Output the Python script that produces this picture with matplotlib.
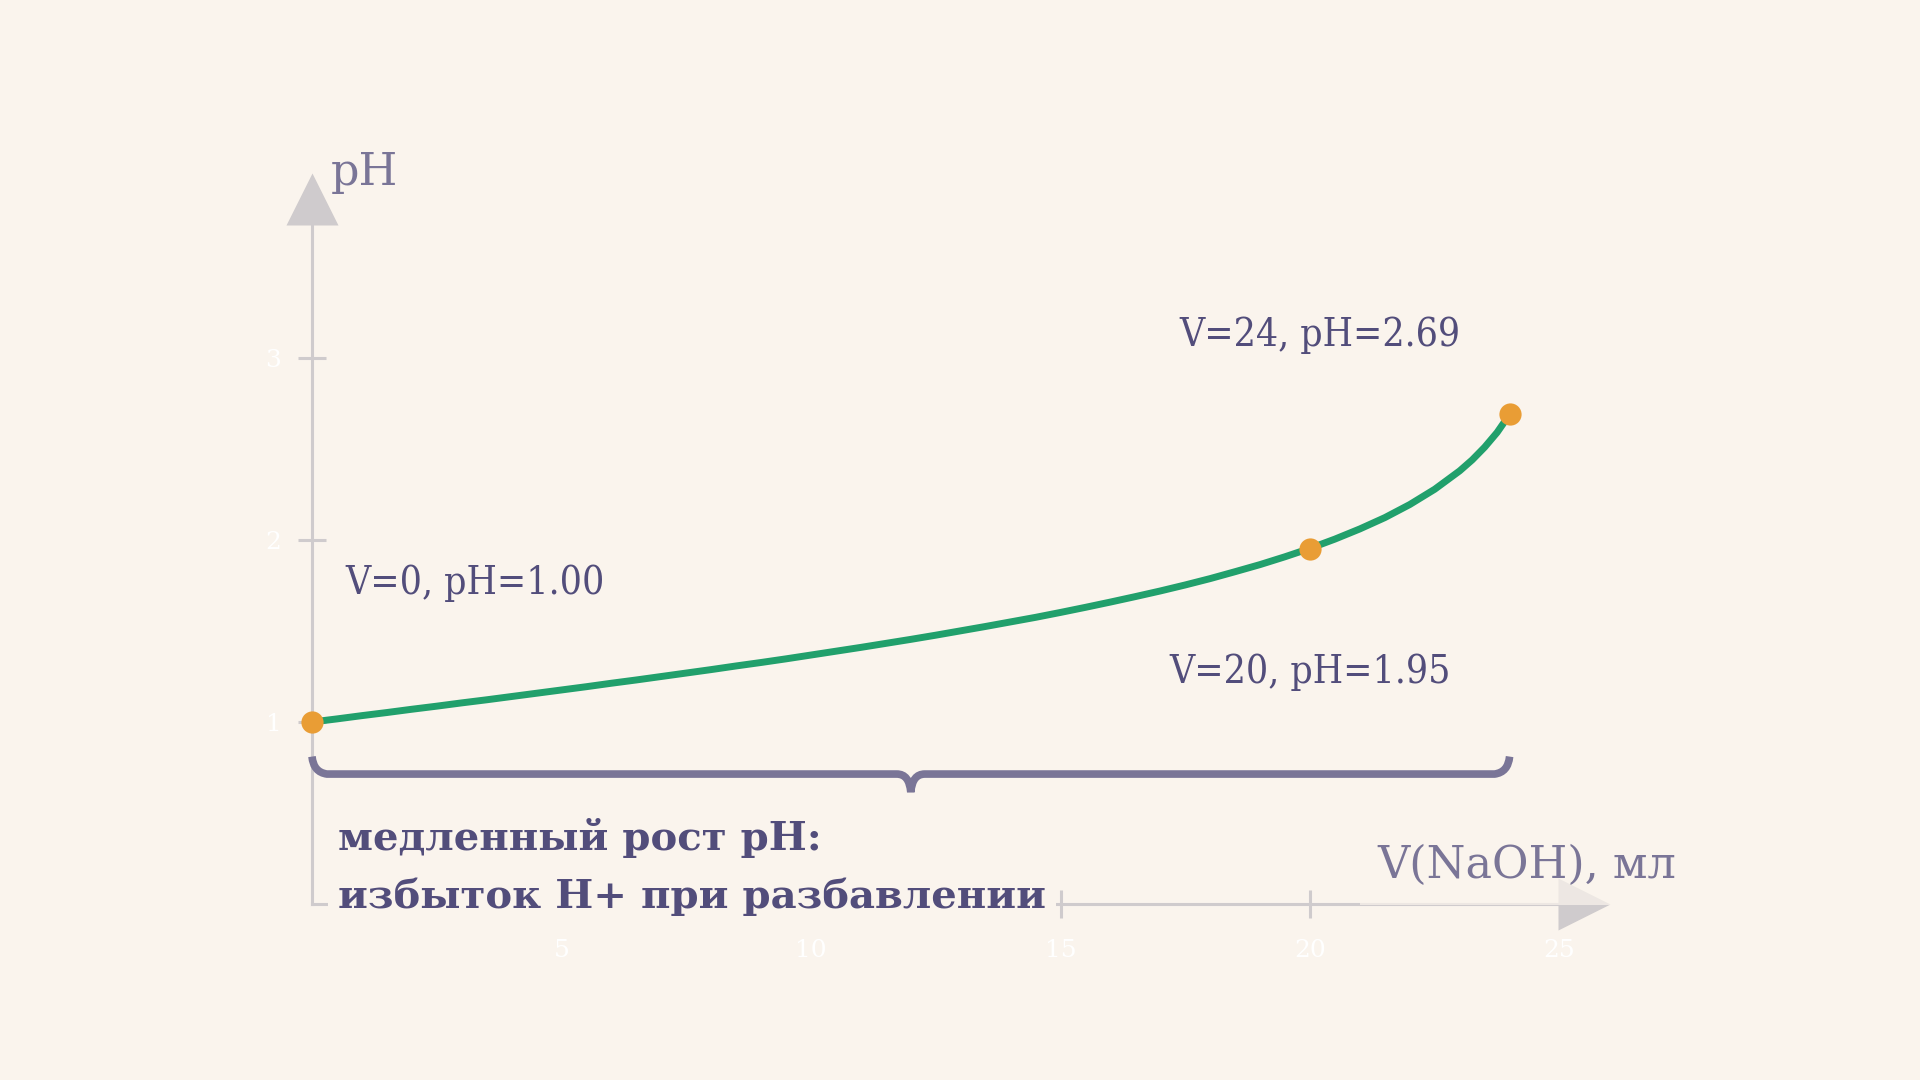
import numpy as np
import matplotlib
matplotlib.use('Agg')
from matplotlib import pyplot as plt
from matplotlib.path import Path
import matplotlib.patches as mpatches

plt.rcParams['font.family'] = 'serif'
plt.rcParams['font.serif'] = ['DejaVu Serif']

# titration curve
v_ml = [0, 0.5, 1, 1.5, 2, 2.5, 3, 3.5, 4, 4.5, 5, 5.5, 6, 6.5, 7, 7.5,
        8, 8.5, 9, 9.5, 10, 10.5, 11, 11.5, 12, 12.5, 13, 13.5, 14, 14.5,
        15, 15.5, 16, 16.5, 17, 17.5, 18, 18.5, 19, 19.5, 20, 20.5, 21,
        21.5, 22, 22.5, 23, 23.25, 23.5, 23.75, 24]
ph = [1.000, 1.017, 1.035, 1.052, 1.070, 1.087, 1.105, 1.122, 1.140,
      1.158, 1.176, 1.194, 1.213, 1.231, 1.250, 1.269, 1.288, 1.308,
      1.327, 1.347, 1.368, 1.389, 1.410, 1.432, 1.454, 1.477, 1.501,
      1.525, 1.550, 1.575, 1.602, 1.630, 1.659, 1.689, 1.720, 1.753,
      1.788, 1.826, 1.865, 1.908, 1.954, 2.005, 2.061, 2.123, 2.195,
      2.279, 2.380, 2.440, 2.510, 2.591, 2.690]

key_v = [0, 20, 24]
key_ph = [1.00, 1.95, 2.69]
key_labels = ['V=0, pH=1.00', 'V=20, pH=1.95', 'V=24, pH=2.69']

x_ticks = [5, 10, 15, 20, 25]
y_ticks = [1, 2, 3]

bg = '#faf4ed'
axis_col = '#cfcbcd'
txt_col = '#524d7b'
lab_col = '#7a7597'
green = '#21a06c'
orange = '#e99d35'

fig = plt.figure(figsize=(19.2, 10.8), dpi=100, facecolor=bg)
ax = fig.add_axes([0, 0, 1, 1], facecolor=bg)
# 49.9 px per ml, 182 px per pH unit, origin at (312, 904) px
ax.set_xlim(-312 / 49.9, (1920 - 312) / 49.9)
ax.set_ylim(-(1080 - 904) / 182, 904 / 182)

for s in ['top', 'right']:
    ax.spines[s].set_visible(False)
ax.spines['left'].set_position(('data', 0))
ax.spines['bottom'].set_position(('data', 0))
ax.spines['left'].set_bounds(0, 3.74)
ax.spines['bottom'].set_bounds(0, 25)
for s in ['left', 'bottom']:
    ax.spines[s].set_color(axis_col)
    ax.spines[s].set_linewidth(2.2)

ax.set_xticks(x_ticks)
ax.set_yticks(y_ticks)
ax.set_xticklabels([str(t) for t in x_ticks])
ax.set_yticklabels([str(t) for t in y_ticks])
ax.tick_params(direction='inout', length=20, width=2.2, color=axis_col,
               labelcolor='white', labelsize=18)
ax.tick_params(axis='x', pad=15)
ax.tick_params(axis='y', pad=12)

# arrow heads
ax.plot([0], [3.876], marker='^', ms=37, color=axis_col, mec='none',
        clip_on=False, zorder=2.6)
ax.plot([25.5], [0], marker='>', ms=37, color=axis_col, mec='none',
        clip_on=False, zorder=2.6)

ax.text(0.38, 4.02, 'pH', fontsize=32, color=lab_col, ha='left', va='center')
ax.text(21.35, 0.21, 'V(NaOH), мл', fontsize=32, color=lab_col,
        ha='left', va='center', zorder=3,
        bbox=dict(boxstyle='square,pad=0.4', fc=bg, ec='none', alpha=0.7))

# curve and key points
ax.plot(v_ml, ph, color=green, lw=5.0, solid_capstyle='round',
        solid_joinstyle='round', zorder=4)
ax.plot(key_v, key_ph, 'o', ms=16, color=orange, mec='none', zorder=5)

offsets = [(163, 139), (0, -123), (-190, 79)]
for xv, yv, lab, off in zip(key_v, key_ph, key_labels, offsets):
    ax.annotate(lab, (xv, yv), xytext=off, textcoords='offset pixels',
                ha='center', va='center', fontsize=28, color=txt_col,
                fontstretch='condensed', zorder=6)

# brace under the slow-rise region
x0, x1 = key_v[0], key_v[-1]
xm = (x0 + x1) / 2
yb, ye, yt = 0.714, 0.81, 0.615
verts = [(x0, ye), (x0 + 0.03, yb + 0.01), (x0 + 0.3, yb),
         (xm - 0.28, yb), (xm - 0.03, yb), (xm, yt),
         (xm + 0.03, yb), (xm + 0.28, yb),
         (x1 - 0.3, yb), (x1 - 0.03, yb + 0.01), (x1, ye)]
codes = [Path.MOVETO, Path.CURVE3, Path.CURVE3,
         Path.LINETO, Path.CURVE3, Path.CURVE3,
         Path.CURVE3, Path.CURVE3,
         Path.LINETO, Path.CURVE3, Path.CURVE3]
brace = mpatches.PathPatch(Path(verts, codes), fc='none', ec=lab_col,
                           lw=5.5, capstyle='butt', zorder=3)
ax.add_patch(brace)

ax.text(0.52, 0.47, 'медленный рост pH:\nизбыток H+ при разбавлении',
        fontsize=29, fontweight='bold', color=txt_col, ha='left', va='top',
        linespacing=1.64, zorder=3,
        bbox=dict(boxstyle='square,pad=0.25', fc=bg, ec='none'))

plt.savefig('out.png', dpi=100, facecolor=bg)
